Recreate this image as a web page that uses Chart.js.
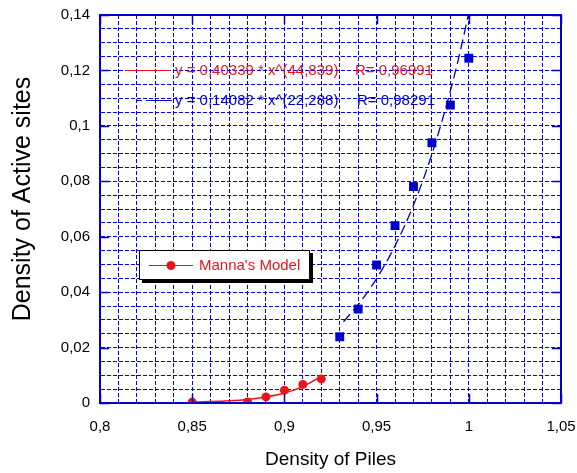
<!DOCTYPE html>
<html>
<head>
<meta charset="utf-8">
<script src="https://cdn.jsdelivr.net/npm/chart.js@4.4.0/dist/chart.umd.min.js"></script>
<style>
    html, body { margin: 0; padding: 0; background: #fff; }
    #wrap { width: 577px; height: 473px; }
</style>
</head>
<body>
<div id="wrap"><canvas id="chart"></canvas></div>
<script>
const mannaX = [0.85, 0.88, 0.89, 0.90, 0.91, 0.92];
const mannaY = [0.0003, 0.0004, 0.0022, 0.0046, 0.0067, 0.0087];
const blueX = [0.93, 0.94, 0.95, 0.96, 0.97, 0.98, 0.99, 1.00];
const blueY = [0.0239, 0.0339, 0.0498, 0.0640, 0.0781, 0.0939, 0.1075, 0.1244];

// fitted curves
const redFitX = [0.85, 0.86, 0.87, 0.88, 0.89, 0.90, 0.91, 0.92];
const redFitY = [0.0003, 0.0005, 0.0008, 0.0013, 0.0022, 0.0036, 0.0059, 0.0096];
const blueFitX = [0.932, 0.94, 0.95, 0.96, 0.97, 0.98, 0.99, 0.995, 1.0];
const blueFitY = [0.0293, 0.0355, 0.0449, 0.0567, 0.0714, 0.0898, 0.1126, 0.1259, 0.1408];

const xTickLabels = ['0,8', '0,85', '0,9', '0,95', '1', '1,05'];
const yTickLabels = ['0', '0,02', '0,04', '0,06', '0,08', '0,1', '0,12', '0,14'];
const fitLabels = ['y = 0,40339 * x^(44,839)', 'y = 0,14082 * x^(22,288)'];
const fitR = ['R= 0,96991', 'R= 0,98291'];
const yTitle = 'Density of Active sites';

const BLUE = '#0000cc';
const GRID = '#0000ee';
const RED = '#e8141c';
const FONT = "'Liberation Sans', Arial, sans-serif";

function pts(xs, ys) {
    return xs.map((x, i) => ({ x: x, y: ys[i] }));
}

const overlay = {
    id: 'overlay',
    afterDraw(chart) {
        const ctx = chart.ctx;
        const a = chart.chartArea;
        const xs = chart.scales.x, ys = chart.scales.y;
        ctx.save();

        // frame + inward major ticks
        ctx.strokeStyle = BLUE;
        ctx.lineWidth = 2;
        ctx.strokeRect(a.left, a.top, a.right - a.left, a.bottom - a.top);
        ctx.lineWidth = 1.5;
        ctx.beginPath();
        xs.ticks.forEach(t => {
            if (!xs.options.ticks.callback(t.value)) return;
            const px = Math.round(xs.getPixelForValue(t.value)) + 0.5;
            ctx.moveTo(px, a.bottom); ctx.lineTo(px, a.bottom - 9);
            ctx.moveTo(px, a.top); ctx.lineTo(px, a.top + 9);
        });
        ys.ticks.forEach(t => {
            if (!ys.options.ticks.callback(t.value)) return;
            const py = Math.round(ys.getPixelForValue(t.value)) + 0.5;
            ctx.moveTo(a.left, py); ctx.lineTo(a.left + 9, py);
            ctx.moveTo(a.right, py); ctx.lineTo(a.right - 9, py);
        });
        ctx.stroke();

        // y axis title (sits a bit above the plot centre in the original)
        ctx.save();
        ctx.translate(23, 199);
        ctx.rotate(-Math.PI / 2);
        ctx.font = '25px ' + FONT;
        ctx.fillStyle = '#000';
        ctx.textAlign = 'center';
        ctx.textBaseline = 'middle';
        ctx.fillText(yTitle, 0, 0);
        ctx.restore();

        // fit equations
        ctx.font = '15px ' + FONT;
        ctx.textBaseline = 'middle';
        ctx.textAlign = 'left';
        ctx.lineWidth = 1.2;
        ctx.strokeStyle = RED;
        ctx.beginPath(); ctx.moveTo(126, 70.5); ctx.lineTo(170, 70.5); ctx.stroke();
        ctx.fillStyle = RED;
        ctx.fillText(fitLabels[0], 175, 71);
        ctx.fillText(fitR[0], 355, 71);

        ctx.strokeStyle = BLUE;
        ctx.setLineDash([5, 4, 24, 0]);
        ctx.beginPath(); ctx.moveTo(137, 100.5); ctx.lineTo(172, 100.5); ctx.stroke();
        ctx.setLineDash([]);
        ctx.fillStyle = BLUE;
        ctx.fillText(fitLabels[1], 175, 101);
        ctx.fillText(fitR[1], 357, 101);

        // Manna's Model legend box
        ctx.fillStyle = '#000';
        ctx.fillRect(142, 253, 171, 30);
        ctx.fillStyle = '#fff';
        ctx.fillRect(139, 250, 171, 30);
        ctx.strokeStyle = '#000';
        ctx.lineWidth = 1;
        ctx.strokeRect(139.5, 250.5, 170, 29);
        ctx.strokeStyle = RED;
        ctx.lineWidth = 1.2;
        ctx.beginPath(); ctx.moveTo(149, 265.5); ctx.lineTo(193, 265.5); ctx.stroke();
        ctx.fillStyle = RED;
        ctx.beginPath(); ctx.arc(171, 265.5, 4.5, 0, Math.PI * 2); ctx.fill();
        ctx.fillText("Manna's Model", 199, 266);

        ctx.restore();
    }
};

new Chart(document.getElementById('chart'), {
    type: 'scatter',
    data: {
        datasets: [{
            data: pts(redFitX, redFitY),
            showLine: true,
            borderColor: RED,
            borderWidth: 1.5,
            pointRadius: 0,
            cubicInterpolationMode: 'monotone'
        }, {
            label: "Manna's Model",
            data: pts(mannaX, mannaY),
            showLine: false,
            backgroundColor: RED,
            borderColor: RED,
            borderWidth: 0,
            pointRadius: 4.5
        }, {
            data: pts(blueFitX, blueFitY),
            showLine: true,
            borderColor: BLUE,
            borderWidth: 1.3,
            borderDash: [10, 5],
            pointRadius: 0,
            cubicInterpolationMode: 'monotone'
        }, {
            data: pts(blueX, blueY),
            showLine: false,
            pointStyle: 'rect',
            pointRadius: 6.3,
            backgroundColor: BLUE,
            borderColor: BLUE,
            borderWidth: 0
        }]
    },
    options: {
        responsive: true,
        maintainAspectRatio: false,
        animation: false,
        layout: { padding: { left: 0, right: 16, top: 15, bottom: 0 } },
        plugins: {
            legend: { display: false },
            tooltip: { enabled: false }
        },
        scales: {
            x: {
                type: 'linear',
                min: 0.8,
                max: 1.05,
                afterFit: s => { s.height = 70; s.paddingLeft = 0; s.paddingRight = 0; },
                grid: { color: GRID, lineWidth: 1, drawTicks: false },
                border: { color: BLUE, width: 2, dash: [4, 2] },
                ticks: {
                    stepSize: 0.01,
                    autoSkip: false,
                    maxRotation: 0,
                    padding: 15,
                    color: '#000',
                    font: { size: 15, family: FONT },
                    callback: function(v) {
                        const k = Math.round(v * 100);
                        return k % 5 === 0 ? xTickLabels[(k - 80) / 5] : '';
                    }
                },
                title: {
                    display: true,
                    text: 'Density of Piles',
                    color: '#000',
                    font: { size: 19, family: FONT },
                    padding: { top: 0, bottom: 2 }
                }
            },
            y: {
                min: 0,
                max: 0.14,
                afterFit: s => { s.width = 100; s.paddingTop = 0; s.paddingBottom = 0; },
                grid: { color: GRID, lineWidth: 1, drawTicks: false },
                border: { color: BLUE, width: 2, dash: [4, 2] },
                ticks: {
                    stepSize: 0.005,
                    autoSkip: false,
                    padding: 10,
                    color: '#000',
                    font: { size: 15, family: FONT },
                    callback: function(v) {
                        const k = Math.round(v * 1000);
                        return k % 20 === 0 ? yTickLabels[k / 20] : '';
                    }
                }
            }
        }
    },
    plugins: [overlay]
});
</script>
</body>
</html>
